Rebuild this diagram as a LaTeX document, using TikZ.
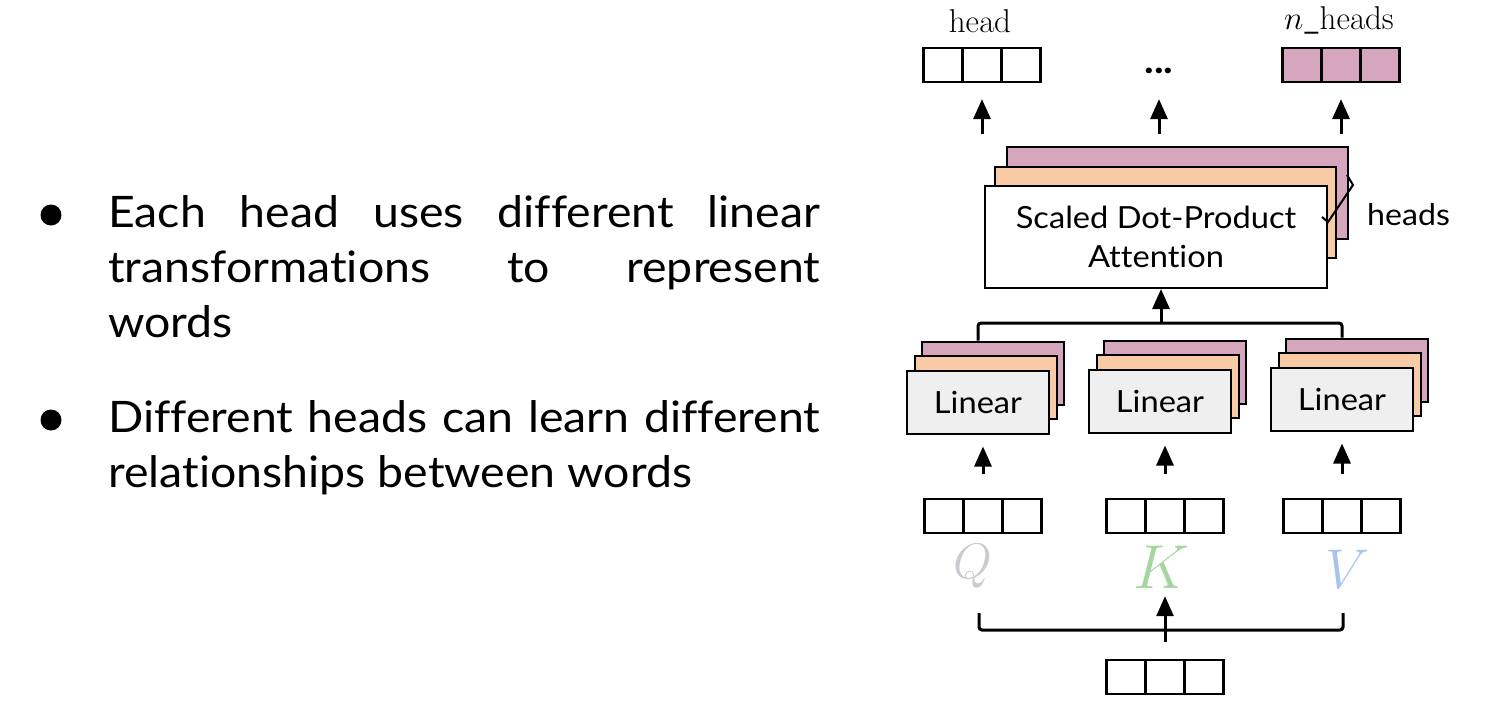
\documentclass[tikz,border=0pt]{standalone}
\usepackage{fix-cm}
\usepackage[no-math]{fontspec}
\setmainfont{Lato}[FakeStretch=1.07, Ligatures={NoCommon, NoRare}]
\usetikzlibrary{arrows.meta,positioning}

\definecolor{headpink}{HTML}{D5A6BD}
\definecolor{headorange}{HTML}{F8CBA6}
\definecolor{linfill}{HTML}{EFEFEF}
\definecolor{qgray}{HTML}{C9CBCF}
\definecolor{kgreen}{HTML}{A6D6A0}
\definecolor{vblue}{HTML}{A7C5EA}

\begin{document}
\begin{tikzpicture}[x=1pt, y=-1pt,
		cell/.style={draw, line width=2.2pt, minimum width=39pt, minimum height=34pt, inner sep=0pt},
		layer/.style={draw, line width=2pt, minimum width=142pt, minimum height=63pt, inner sep=0pt, font=\fontsize{30.5}{30.5}\selectfont},
		att/.style={draw, line width=2pt, minimum width=341pt, inner sep=0pt, align=center},
		arr/.style={line width=3pt, -{Triangle[length=20pt,width=17pt]}},
		wire/.style={line width=3pt, rounded corners=3pt},
		txt/.style={anchor=base west, text width=712pt, align=justify, inner sep=0pt, font=\fontsize{43.4}{55}\selectfont},
		dot/.style={circle, fill, inner sep=0pt, minimum size=21pt}]
		\useasboundingbox (0,0) rectangle (1510,718);

		% bullet list
		\node[dot] (b1) at (51,215) {};
		\node[txt] (t1) at (108,227) {Each head uses different linear\linebreak transformations to represent\linebreak words};
		\node[dot] (b2) at (51,420) {};
		\node[txt] (t2) at (108,432) {Different heads can learn different\linebreak relationships between words};

		% word vectors
		\foreach \v/\x/\y/\f in {head/982/65/white, nh/1341/65/headpink, vq/983/516/white, vk/1165/516/white, vv/1342/516/white, xin/1165/677/white}
			\foreach \c in {1,2,3}
				\node[cell, fill=\f] (\v\c) at (\x+39*\c-78,\y) {};

		\node[font=\fontsize{33}{33}\selectfont, anchor=base] (headlab) at (980,32) {$\mathrm{head}$};
		\node[font=\fontsize{33}{33}\selectfont, anchor=base] (nhlab) at (1339,29) {$n\_\mathrm{heads}$};
		\node[font=\fontsize{38}{38}\selectfont\bfseries, anchor=base] (dots) at (1159,73) {...};

		% attention stack
		\node[att, fill=headpink, minimum height=92pt] (att3) at (1177.5,193) {};
		\node[att, fill=headorange, minimum height=91pt] (att2) at (1165.5,212.5) {};
		\node[att, fill=white, minimum width=342pt, minimum height=102pt, font=\fontsize{30.5}{39}\selectfont] (att1) at (1156,237) {Scaled Dot-Product\\Attention};
		\draw[line width=2pt] (1347,175) -- (1353,185) -- (1328,222) -- (1322,217);
		\node[font=\fontsize{30}{30}\selectfont, anchor=base west, inner sep=0pt] (hlab) at (1367,225) {heads};

		\foreach \t in {head2, dots, nh2}
			\draw[arr, shorten <=12pt, shorten >=16pt] (att3.north -| \t) -- (\t |- head2.south);

		% linear stacks
		\foreach \n/\x/\y in {lq/978/402, lk/1160/401, lv/1342/399} {
			\node[layer, fill=headpink] (\n3) at (\x+15,\y-29) {};
			\node[layer, fill=headorange] (\n2) at (\x+7.5,\y-14.5) {};
			\node[layer, fill=linfill] (\n1) at (\x,\y) {Linear};
		}

		\coordinate (join) at (1161,323);
		\draw[wire] (lq3.north -| lq1) |- (join) -| (lv3.north -| lv1);
		\draw[arr] (join) -- (join |- att1.south);

		\foreach \v/\n in {vq/lq, vk/lk, vv/lv}
			\draw[arr, shorten <=24pt, shorten >=12pt] (\v2) -- (\v2 |- \n1.south);

		% inputs
		\node[font=\fontsize{50}{50}\selectfont, text=qgray, anchor=base, inner sep=0pt] (qlab) at (973,578) {$Q$};
		\node[font=\fontsize{62}{62}\selectfont, text=kgreen, anchor=base, inner sep=0pt] (klab) at (1162,588) {$K$};
		\node[font=\fontsize{56}{56}\selectfont, text=vblue, anchor=base, inner sep=0pt] (vlab) at (1348,588) {$V$};

		\coordinate (bl) at (979,613);
		\coordinate (br) at (1343,613);
		\coordinate (fork) at (1163,630);
		\draw[wire] (bl) |- (fork) -| (br);
		\draw[arr, shorten <=17pt, shorten >=8pt] (xin2) -- (xin2 |- klab.south);
	\end{tikzpicture}
\end{document}
